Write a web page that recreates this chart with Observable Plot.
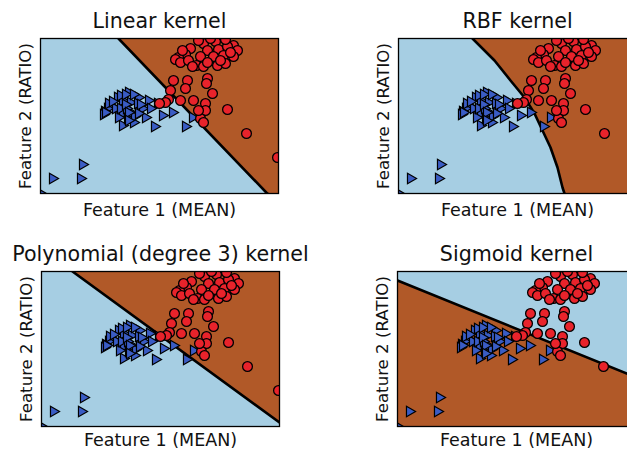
<!DOCTYPE html>
<html>
<head>
<meta charset="utf-8">
<script src="https://cdn.jsdelivr.net/npm/d3@7"></script>
<script src="https://cdn.jsdelivr.net/npm/@observablehq/plot@0.6"></script>
<style>
  html, body { margin: 0; padding: 0; background: #fff; overflow: hidden; }
  #wrap { position: relative; width: 627px; height: 449px; overflow: hidden; background: #fff; }
  #wrap > div { position: absolute; width: 320px; height: 225px; }
  svg { overflow: visible; max-width: none !important; }
</style>
</head>
<body>
<div id="wrap">
  <div id="p1" style="left:0px;top:0px"></div>
  <div id="p2" style="left:357.5px;top:0px"></div>
  <div id="p3" style="left:0.5px;top:233px"></div>
  <div id="p4" style="left:357px;top:233px"></div>
</div>
<script>
// ---- data (arbitrary feature units) ----
const titles = ["Linear kernel", "RBF kernel", "Polynomial (degree 3) kernel", "Sigmoid kernel"];
const xLabel = "Feature 1 (MEAN)";
const yLabel = "Feature 2 (RATIO)";
const xDomain = [0, 238];
const yDomain = [0, 155];

// class 0 (blue triangles)
const triMean  = [12, 40, 42, 0, 77, 88, 82, 90, 98, 97, 108, 117, 70, 67, 75, 82, 92, 105, 122, 132, 82, 93, 114, 145, 87, 102, 78, 152, 94, 64, 63, 68, 72, 65, 80, 85, 93, 80, 86, 85, 88, 100, 110, 88, 98];
const triRatio = [15, 15, 29, 0, 96, 101, 93, 91, 96, 90, 93, 90, 88, 85, 85, 80, 80, 76, 78, 81, 68, 71, 67, 67, 75, 85, 76, 76, 77, 82, 79, 90, 92, 81, 98, 99, 99, 85, 85, 89, 81, 89, 85, 73, 80];

// class 1 (red circles)
const cirMean  = [163, 175, 193, 150, 167, 178, 187, 197, 145, 138, 135, 140, 160, 173, 183, 193, 156, 163, 167, 177, 185, 158, 170, 185, 148, 152, 147, 133, 167, 166, 145, 130, 172, 153, 140, 128, 165, 165, 187, 160, 163, 206, 237, 125, 119, 158, 190, 180, 142];
const cirRatio = [150, 152, 148, 145, 143, 144, 147, 143, 139, 136, 134, 131, 137, 137, 138, 137, 128, 127, 131, 128, 130, 153, 155, 154, 133, 127, 113, 113, 115, 110, 105, 103, 100, 93, 93, 94, 90, 83, 84, 75, 71, 60, 36, 91, 90, 83, 141, 133, 143];

// decision boundaries
const linX = [78, 226.7, 250];
const linY = [155, 0, -12.5];
const rbfX = [74, 96, 112, 126, 136, 144, 152, 159, 164, 166, 166.5, 250];
const rbfY = [155, 133, 113, 96, 80, 63, 46, 26, 6, 0, -8, -8];
const polyX = [31, 238];
const polyY = [155, 4];
const sigX = [0, 238];
const sigY = [146, 49.5];

// ---- styles ----
const LIGHT = "#a6cee3";
const BROWN = "#b15928";
const TRI_FILL = "#3a5cc4";
const CIR_FILL = "#e8232b";
const INK = "#111";

const tris = triMean.map((m, i) => ({m, r: triRatio[i]}));
const cirs = cirMean.map((m, i) => ({m, r: cirRatio[i]}));
const toPts = (xs, ys) => xs.map((x, i) => ({x, y: ys[i]}));

const triRight = {
  draw(ctx, size) {
    const h = Math.sqrt(size / (3 * Math.sqrt(3)));
    ctx.moveTo(2 * h, 0);
    ctx.lineTo(-h, -Math.sqrt(3) * h);
    ctx.lineTo(-h, Math.sqrt(3) * h);
    ctx.closePath();
  }
};

function panel(el, title, bg, fg, boundary, labelDy) {
  const W = 320;
  const chart = Plot.plot({
    width: W, height: 225,
    marginLeft: 40, marginTop: 38, marginRight: W - 278, marginBottom: 32,
    x: {domain: xDomain, axis: null},
    y: {domain: yDomain, axis: null},
    style: {fontFamily: "DejaVu Sans", background: "transparent", overflow: "visible", maxWidth: "none"},
    marks: [
      Plot.frame({fill: bg}),
      Plot.areaY(boundary, {x: "x", y1: "y", y2: yDomain[1], fill: fg, clip: true, curve: "linear"}),
      Plot.line(boundary, {x: "x", y: "y", stroke: "#000", strokeWidth: 2.6, clip: true}),
      Plot.dot(tris, {x: "m", y: "r", symbol: triRight, r: 3.9, fill: TRI_FILL, stroke: "#000", strokeWidth: 1.2, clip: true}),
      Plot.dot(cirs, {x: "m", y: "r", r: 4.9, fill: CIR_FILL, stroke: "#000", strokeWidth: 1.3, clip: true}),
      Plot.frame({stroke: "#000", strokeWidth: 1.3}),
      Plot.text([title], {text: d => d, frameAnchor: "top", textAnchor: "middle", lineAnchor: "bottom", dy: -10.5, fontSize: 20.6, fill: INK}),
      Plot.text([xLabel], {text: d => d, frameAnchor: "bottom", textAnchor: "middle", lineAnchor: "bottom", dy: labelDy, fontSize: 17.5, fill: INK}),
      Plot.text([yLabel], {text: d => d, frameAnchor: "left", textAnchor: "middle", lineAnchor: "bottom", rotate: -90, dx: -10, fontSize: 16.6, fill: INK})
    ]
  });
  document.getElementById(el).appendChild(chart);
}

panel("p1", titles[0], LIGHT, BROWN, toPts(linX, linY), 22);
panel("p2", titles[1], LIGHT, BROWN, toPts(rbfX, rbfY), 22);
panel("p3", titles[2], LIGHT, BROWN, toPts(polyX, polyY), 19);
panel("p4", titles[3], BROWN, LIGHT, toPts(sigX, sigY), 19);
</script>
</body>
</html>
